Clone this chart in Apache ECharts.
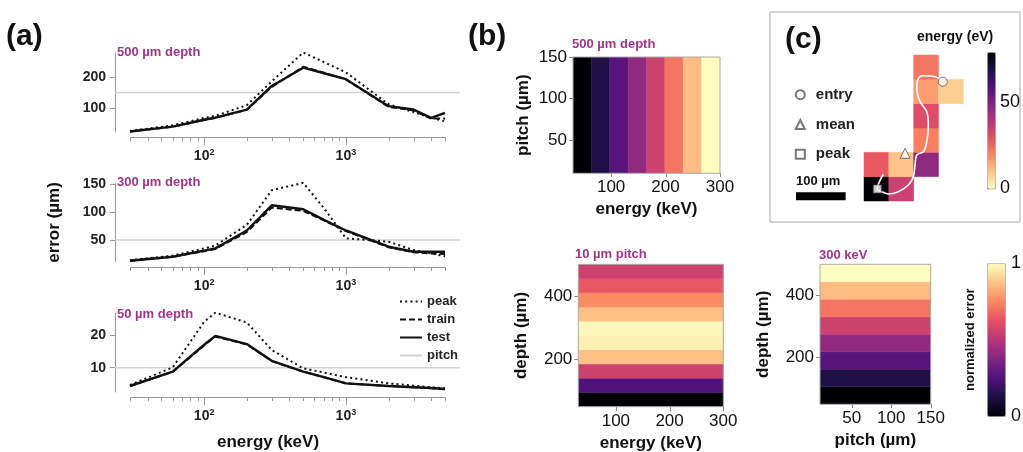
<!DOCTYPE html>
<html>
<head>
<meta charset="utf-8">
<script src="https://cdn.jsdelivr.net/npm/echarts@6/dist/echarts.min.js"></script>
<style>
  html, body { margin: 0; background: #fff; }
  #chart { width: 1023px; height: 452px; }
</style>
</head>
<body>
<div id="chart"></div>
<script>
// ---- panel (a): error vs energy ----
const energies = [30, 60, 100, 120, 200, 300, 500, 700, 1000, 2000, 3000, 4000, 5000]; // keV
const peak500  = [26, 44, 68, 75, 109, 186, 279, 248, 215, 112, 87, 68, 57];
const train500 = [24, 40, 61, 68, 94, 168, 233, 214, 192, 104, 92, 66, 66];
const test500  = [24, 40, 62, 69, 95, 171, 230, 212, 193, 106, 95, 68, 84];
const peak300  = [14, 22, 35, 40, 77, 139, 152, 107, 53, 47, 32, 26, 21];
const train300 = [13, 20, 30, 34, 64, 108, 102, 85, 66, 37, 28, 26, 25];
const test300  = [13, 20, 31, 35, 67, 112, 105, 86, 67, 38, 29, 29, 29];
const peak50   = [4.7, 10.1, 24, 26.8, 23.8, 15.4, 9.8, 8.5, 7.1, 5.2, 4.5, 4.0, 3.7];
const train50  = [4.4, 8.7, 16.8, 19.5, 17.1, 12, 8.8, 7.1, 5.2, 4.4, 4.0, 3.7, 3.4];
const test50   = [4.4, 8.8, 17, 19.7, 17.2, 12.1, 8.8, 7.1, 5.2, 4.4, 4.0, 3.8, 3.5];
const pitchLines = [150, 50, 10];
const yTicks500 = [100, 200];
const yTicks300 = [50, 100, 150];
const yTicks50 = [10, 20];
const xMajor = [100, 1000];
const xMinor = [30, 40, 50, 60, 70, 80, 90, 200, 300, 400, 500, 600, 700, 800, 900, 2000, 3000, 4000, 5000];

// ---- panel (b): normalized error heatmaps ----
const b1EnergyEdges = [30, 63.75, 97.5, 131.25, 165, 198.75, 232.5, 266.25, 300];
const b1Err = [0.0, 0.13, 0.27, 0.41, 0.56, 0.71, 0.86, 1.0];
const b2DepthEdges = [50, 95, 140, 185, 230, 275, 320, 365, 410, 455, 500];
const b2Err = [0.0, 0.25, 0.56, 0.87, 0.97, 0.99, 0.87, 0.76, 0.64, 0.56];
const b3DepthEdges = [50, 106.25, 162.5, 218.75, 275, 331.25, 387.5, 443.75, 500];
const b3Err = [0.0, 0.13, 0.27, 0.41, 0.56, 0.71, 0.86, 1.0];

// ---- panel (c): pixel energies and track (um) ----
const cellX = [0, 50, 0, 50, 100, 100, 100, 100, 150, 100];
const cellY = [0, 0, 50, 50, 50, 100, 150, 200, 200, 250];
const cellE = [79, 35, 28, 9.5, 47, 21, 31, 16, 8, 23];
const track = [[158.7, 245.2], [143.1, 255.4], [119.5, 257.5], [109.5, 252.2], [106.2, 231.6],
  [112.9, 204.1], [126.4, 183.5], [129.6, 156.2], [126.4, 121.9], [119.5, 101.3], [106.2, 94.5],
  [102.8, 74], [99.4, 49.9], [89.3, 32.9], [69.1, 19.1], [49, 14.4], [35.7, 19.1], [26.8, 24.7], [38.9, 54.9]];
const entryPos = [158.7, 245.2];
const meanPos = [82.7, 98];
const peakPos = [26.8, 24.7];
const scaleBar = [[-137, 10], [-37, 10]]; // 100 um

const magma = ['#000004', '#1c1044', '#4f127b', '#812581', '#b5367a', '#e55064', '#fb8761', '#fec287', '#fcfdbf'];
const FONT = 'Liberation Sans, Arial, sans-serif';
const PURPLE = '#9e3689';
const AX = '#999';
const lg = Math.log10;

const chart = echarts.init(document.getElementById('chart'));

const grid = [], xAxis = [], yAxis = [], series = [];

// x axis line and ticks drawn through the axis scale (value, length, y at bottom)
function xTickRender(offset, color) {
  return (params, api) => {
    const p = api.coord([api.value(0), api.value(2)]);
    const x = Math.round(p[0]) + 0.5, y = Math.round(p[1]) + offset;
    return { type: 'line', shape: { x1: x, y1: y, x2: x, y2: y + api.value(1) },
      style: { stroke: color, lineWidth: 1 } };
  };
}
function xLineRender(offset, color) {
  return (params, api) => {
    const a = api.coord([api.value(0), api.value(2)]);
    const b = api.coord([api.value(1), api.value(2)]);
    const y = Math.round(a[1]) + offset + 0.5;
    return { type: 'line', shape: { x1: a[0], y1: y, x2: b[0], y2: y },
      style: { stroke: color, lineWidth: 1 } };
  };
}

// panel (a): inner grid (lines, 30-5000 keV) + wider grid (pitch line)
const xLo = lg(30), xHi = lg(5000);
const xPad = 15 * (xHi - xLo) / 315;
const aPanels = [
  { top: 53, min: 22.6, max: 277.4, ticks: yTicks500, pitch: pitchLines[0], peak: peak500, train: train500, test: test500 },
  { top: 183, min: 10.7, max: 151.8, ticks: yTicks300, pitch: pitchLines[1], peak: peak300, train: train300, test: test300, name: 'error (µm)' },
  { top: 313, min: 2.57, max: 26.7, ticks: yTicks50, pitch: pitchLines[2], peak: peak50, train: train50, test: test50 }
];
const lineTypes = { peak: [2, 3.2], train: [6, 3], test: 'solid' };

aPanels.forEach(p => {
  const g = grid.length;
  grid.push({ left: 130, width: 315, top: p.top, height: 79, outerBoundsMode: 'none' });
  grid.push({ left: 115, width: 345, top: p.top, height: 79, outerBoundsMode: 'none' });
  const xi = xAxis.length;
  xAxis.push({
    gridIndex: g, type: 'value', position: 'bottom', min: xLo, max: xHi, offset: 5,
    axisLine: { show: false }, axisTick: { show: false },
    axisLabel: {
      customValues: xMajor.map(lg), margin: 11,
      formatter: v => '{b|10}{s|' + Math.round(v) + '}',
      rich: {
        b: { fontSize: 14, fontWeight: 'bold', color: '#222', fontFamily: FONT },
        s: { fontSize: 9, fontWeight: 'bold', color: '#222', fontFamily: FONT, padding: [0, 0, 7, 0] }
      }
    },
    splitLine: { show: false }
  });
  xAxis.push({ gridIndex: g + 1, type: 'value', min: xLo - xPad, max: xHi + xPad, show: false });
  const yi = yAxis.length;
  yAxis.push({
    gridIndex: g, type: 'value', position: 'left', min: p.min, max: p.max, offset: 15,
    axisLine: { show: true, onZero: false, lineStyle: { color: AX } },
    axisTick: { show: true, customValues: p.ticks, length: 5, lineStyle: { color: AX } },
    axisLabel: { customValues: p.ticks, margin: 9, fontSize: 14, fontWeight: 'bold', color: '#222', fontFamily: FONT },
    splitLine: { show: false },
    name: p.name || '', nameLocation: 'middle', nameGap: 52, nameMoveOverlap: false,
    nameTextStyle: { fontSize: 17, fontWeight: 'bold', color: '#111', fontFamily: FONT }
  });
  yAxis.push({ gridIndex: g + 1, type: 'value', min: p.min, max: p.max, show: false });

  series.push({
    type: 'line', name: 'pitch', xAxisIndex: xi + 1, yAxisIndex: yi + 1,
    data: [[xLo - xPad, p.pitch], [xHi + xPad, p.pitch]], symbol: 'none', z: 1,
    itemStyle: { color: '#d2d2d2' }, lineStyle: { color: '#d2d2d2', width: 1.5 }
  });
  ['peak', 'train', 'test'].forEach(k => {
    series.push({
      type: 'line', name: k, xAxisIndex: xi, yAxisIndex: yi,
      data: energies.map((e, j) => [lg(e), p[k][j]]), symbol: 'none',
      itemStyle: { color: '#111' },
      lineStyle: { color: '#111', width: k === 'test' ? 2.4 : 2, type: lineTypes[k] }
    });
  });
  // detached x axis: line + major/minor ticks 5 px below the plot
  series.push({
    type: 'custom', xAxisIndex: xi, yAxisIndex: yi, clip: false, silent: true,
    renderItem: xLineRender(5, AX), encode: { x: [0, 1], y: 2 }, data: [[xLo, xHi, p.min]]
  });
  series.push({
    type: 'custom', xAxisIndex: xi, yAxisIndex: yi, clip: false, silent: true,
    renderItem: xTickRender(5, AX), encode: { x: 0, y: 2 },
    data: xMajor.map(v => [lg(v), 8, p.min]).concat(xMinor.map(v => [lg(v), 4, p.min]))
  });
});

// panel (b) heatmaps, drawn as value-axis rectangles
function cellRect(params, api) {
  const p0 = api.coord([api.value(0), api.value(2)]);
  const p1 = api.coord([api.value(1), api.value(3)]);
  const c = api.visual('color');
  return {
    type: 'rect',
    shape: { x: p0[0], y: p1[1], width: p1[0] - p0[0], height: p0[1] - p1[1] },
    style: { fill: c, stroke: c, lineWidth: 0.5 }
  };
}
const tickLbl = { fontSize: 17, color: '#111', fontFamily: FONT, margin: 6 };
const nameTs = { fontSize: 17, fontWeight: 'bold', color: '#111', fontFamily: FONT };
const heatIdx = [];
const bPanels = [
  { left: 573, top: 57, width: 147, height: 116.3, x: [30, 300], y: [10, 150], xt: [100, 200, 300], yt: [50, 100, 150],
    xn: 'energy (keV)', yn: 'pitch (µm)', yGap: 41,
    data: b1Err.map((v, k) => [b1EnergyEdges[k], b1EnergyEdges[k + 1], 10, 150, v]) },
  { left: 578.3, top: 264.3, width: 145, height: 142.4, x: [30, 300], y: [50, 500], xt: [100, 200, 300], yt: [200, 400],
    xn: 'energy (keV)', yn: 'depth (µm)', yGap: 48,
    data: b2Err.map((v, k) => [30, 300, b2DepthEdges[k], b2DepthEdges[k + 1], v]) },
  { left: 820, top: 264.3, width: 110.7, height: 140, x: [10, 150], y: [50, 500], xt: [50, 100, 150], yt: [200, 400],
    xn: 'pitch (µm)', yn: 'depth (µm)', yGap: 48,
    data: b3Err.map((v, k) => [10, 150, b3DepthEdges[k], b3DepthEdges[k + 1], v]) }
];
bPanels.forEach(p => {
  const g = grid.length;
  grid.push({ left: p.left, top: p.top, width: p.width, height: p.height, show: true, z: 5,
    borderColor: '#aaa', borderWidth: 1, backgroundColor: 'transparent', outerBoundsMode: 'none' });
  xAxis.push({
    gridIndex: g, type: 'value', min: p.x[0], max: p.x[1],
    axisLine: { show: false }, axisTick: { show: false }, splitLine: { show: false },
    axisLabel: Object.assign({ customValues: p.xt }, tickLbl),
    name: p.xn, nameLocation: 'middle', nameGap: 28, nameMoveOverlap: false, nameTextStyle: nameTs
  });
  yAxis.push({
    gridIndex: g, type: 'value', min: p.y[0], max: p.y[1],
    axisLine: { show: false, onZero: false }, splitLine: { show: false },
    axisTick: { show: true, customValues: p.yt, length: 4, lineStyle: { color: '#888' } },
    axisLabel: Object.assign({ customValues: p.yt }, tickLbl),
    name: p.yn, nameLocation: 'middle', nameGap: p.yGap, nameMoveOverlap: false, nameTextStyle: nameTs
  });
  heatIdx.push(series.length);
  series.push({
    type: 'custom', xAxisIndex: xAxis.length - 1, yAxisIndex: yAxis.length - 1,
    renderItem: cellRect, encode: { x: [0, 1], y: [2, 3] }, data: p.data, clip: true
  });
  series.push({
    type: 'custom', xAxisIndex: xAxis.length - 1, yAxisIndex: yAxis.length - 1, clip: false, silent: true,
    renderItem: xTickRender(0, '#888'), encode: { x: 0, y: 2 }, data: p.xt.map(v => [v, 4, p.y[0]])
  });
});

// normalized error colorbar labels
{
  const g = grid.length;
  grid.push({ left: 987, top: 263.3, width: 18, height: 152.7, outerBoundsMode: 'none' });
  xAxis.push({ gridIndex: g, type: 'value', show: false });
  yAxis.push({
    gridIndex: g, type: 'value', min: 0, max: 1, position: 'left',
    axisLine: { show: false }, axisTick: { show: false }, axisLabel: { show: false }, splitLine: { show: false },
    name: 'normalized error', nameLocation: 'middle', nameGap: 10, nameMoveOverlap: false,
    nameTextStyle: { fontSize: 13, fontWeight: 'bold', color: '#111', fontFamily: FONT }
  });
  yAxis.push({
    gridIndex: g, type: 'value', min: 0, max: 1, position: 'right',
    axisLine: { show: false }, axisTick: { show: false }, splitLine: { show: false },
    axisLabel: { customValues: [0, 1], fontSize: 18, color: '#111', fontFamily: FONT, margin: 6 }
  });
}

// panel (c): grid spans the scale bar too (x in um, 0.4965 px/um)
const cIdx = series.length;
{
  const g = grid.length;
  grid.push({ left: 769.7, top: 55, width: 193.6, height: 146, outerBoundsMode: 'none' });
  xAxis.push({ gridIndex: g, type: 'value', min: -190, max: 200, show: false });
  yAxis.push({ gridIndex: g, type: 'value', min: 0, max: 300, show: false });
  const xi = xAxis.length - 1, yi = yAxis.length - 1;
  series.push({
    type: 'custom', xAxisIndex: xi, yAxisIndex: yi, renderItem: cellRect,
    encode: { x: [0, 1], y: [2, 3] },
    data: cellE.map((v, k) => [cellX[k], cellX[k] + 50, cellY[k], cellY[k] + 50, v])
  });
  series.push({
    type: 'line', xAxisIndex: xi, yAxisIndex: yi, data: track, smooth: 0.35,
    symbol: 'none', lineStyle: { color: '#fff', width: 1.6 }, clip: false, z: 3
  });
  series.push({
    type: 'line', xAxisIndex: xi, yAxisIndex: yi, data: scaleBar,
    symbol: 'none', lineStyle: { color: '#000', width: 8, cap: 'butt' }
  });
  const mk = { color: '#fff', borderColor: '#555', borderWidth: 1 };
  series.push({ type: 'scatter', name: 'entry', xAxisIndex: xi, yAxisIndex: yi, data: [entryPos], symbol: 'circle', symbolSize: 9, itemStyle: mk, z: 4 });
  series.push({ type: 'scatter', name: 'mean', xAxisIndex: xi, yAxisIndex: yi, data: [meanPos], symbol: 'triangle', symbolSize: 10, itemStyle: mk, z: 4 });
  series.push({ type: 'scatter', name: 'peak ', xAxisIndex: xi, yAxisIndex: yi, data: [peakPos], symbol: 'rect', symbolSize: 8, itemStyle: mk, z: 4 });

  const g2 = grid.length;
  grid.push({ left: 987, top: 52, width: 8, height: 136.3, outerBoundsMode: 'none' });
  xAxis.push({ gridIndex: g2, type: 'value', show: false });
  yAxis.push({
    gridIndex: g2, type: 'value', min: 0, max: 79, position: 'right',
    axisLine: { show: false }, splitLine: { show: false },
    axisTick: { show: true, customValues: [0, 50], length: 3, lineStyle: { color: '#333' } },
    axisLabel: { customValues: [0, 50], fontSize: 18, color: '#111', fontFamily: FONT, margin: 5 }
  });
}

const purple = (text, left, top) => ({ text, left, top, padding: 0,
  textStyle: { fontSize: 13, fontWeight: 'bold', color: PURPLE, fontFamily: FONT } });
const bold = (text, left, top, size) => ({ text, left, top, padding: 0,
  textStyle: { fontSize: size, fontWeight: 'bold', color: '#111', fontFamily: FONT } });

chart.setOption({
  animation: false,
  backgroundColor: '#fff',
  title: [
    bold('(a)', 6, 22, 30), bold('(b)', 468, 22, 30), bold('(c)', 785, 25, 30),
    purple('500 µm depth', 117, 46), purple('300 µm depth', 117, 176), purple('50 µm depth', 117, 308),
    purple('500 µm depth', 572, 38), purple('10 µm pitch', 575, 248), purple('300 keV', 819, 249),
    bold('energy (keV)', 217, 434, 17), bold('energy (eV)', 917, 30, 14), bold('100 µm', 796, 175, 13)
  ],
  legend: [
    { data: ['peak', 'train', 'test', 'pitch'], orient: 'vertical', left: 399, top: 295, padding: 0,
      itemWidth: 22, itemHeight: 10, itemGap: 5, itemStyle: { opacity: 0 },
      textStyle: { fontSize: 13, fontWeight: 'bold', color: '#222', fontFamily: FONT } },
    { data: ['entry', 'mean', 'peak '], orient: 'vertical', left: 794.8, top: 87.2, padding: 0,
      itemWidth: 9, itemHeight: 9, itemGap: 14.8,
      textStyle: { fontSize: 15, fontWeight: 'bold', color: '#222', fontFamily: FONT, padding: [0, 0, 0, 6] } }
  ],
  visualMap: [
    { type: 'continuous', seriesIndex: heatIdx, dimension: 4, min: 0, max: 1, calculable: false,
      inRange: { color: magma }, left: 987, top: 263.3, itemWidth: 18, itemHeight: 152.7,
      padding: 0, borderColor: '#aaa', borderWidth: 1 },
    { type: 'continuous', seriesIndex: [cIdx], dimension: 4, min: 0, max: 79, calculable: false,
      inRange: { color: magma.slice().reverse() }, left: 987, top: 52, itemWidth: 8, itemHeight: 136.3,
      padding: 0, borderColor: '#aaa', borderWidth: 1 }
  ],
  graphic: [
    { type: 'rect', shape: { x: 770, y: 12, width: 250, height: 210 },
      style: { fill: 'none', stroke: '#aaa', lineWidth: 1 }, silent: true }
  ],
  grid, xAxis, yAxis, series
});
</script>
</body>
</html>
